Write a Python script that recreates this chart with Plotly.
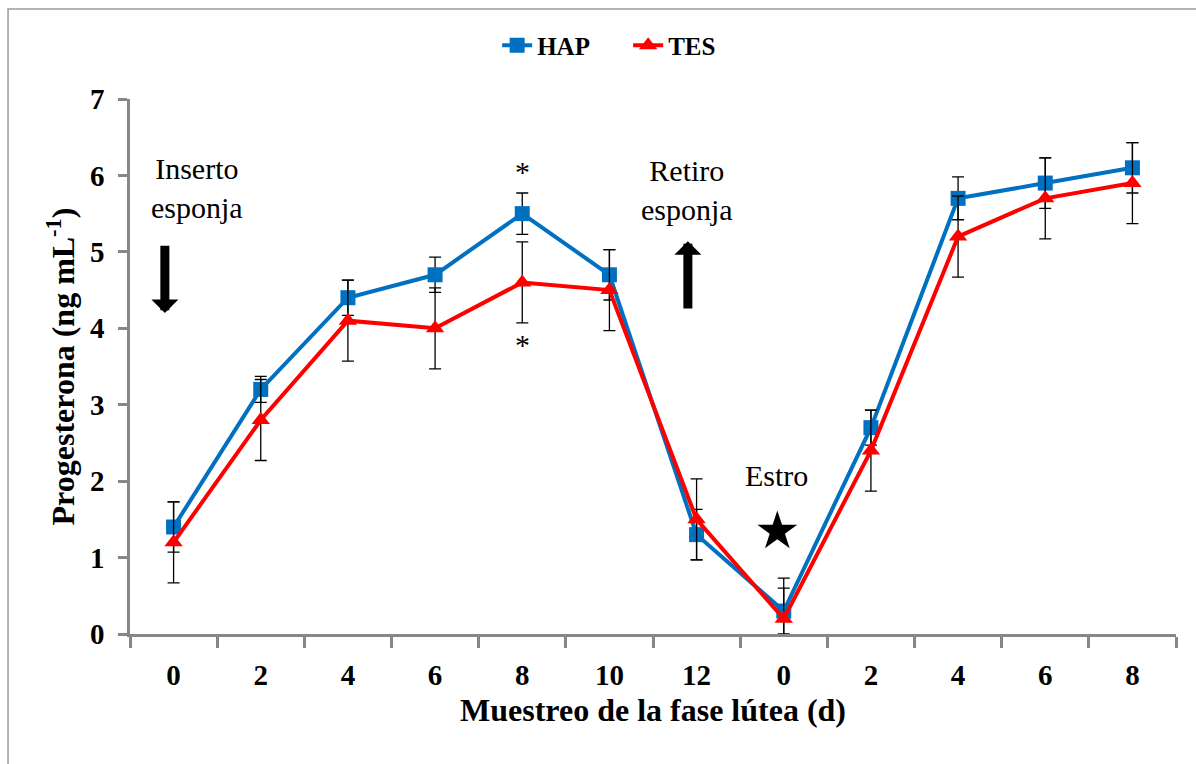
import plotly.graph_objects as go

# ---- data ----
day_labels = ["0", "2", "4", "6", "8", "10", "12", "0", "2", "4", "6", "8"]
positions = list(range(len(day_labels)))

hap_values = [1.4, 3.2, 4.4, 4.7, 5.5, 4.7, 1.3, 0.3, 2.7, 5.7, 5.9, 6.1]
hap_errors = [0.33, 0.17, 0.23, 0.23, 0.27, 0.33, 0.33, 0.30, 0.23, 0.28, 0.33, 0.33]

tes_values = [1.2, 2.8, 4.1, 4.0, 4.6, 4.5, 1.5, 0.2, 2.4, 5.2, 5.7, 5.9]
tes_errors = [0.53, 0.53, 0.53, 0.53, 0.53, 0.53, 0.53, 0.53, 0.53, 0.53, 0.53, 0.53]

y_ticks = [0, 1, 2, 3, 4, 5, 6, 7]

FONT = "Liberation Serif"
AXIS_COLOR = "#878787"

fig = go.Figure()

fig.add_trace(go.Scatter(
    x=positions, y=hap_values, name="HAP", mode="lines+markers",
    line=dict(color="#0070C0", width=4),
    marker=dict(symbol="square", size=15, color="#0070C0"),
    error_y=dict(type="data", array=hap_errors, color="black", thickness=1.3, width=6),
))
fig.add_trace(go.Scatter(
    x=positions, y=tes_values, name="TES", mode="lines+markers",
    line=dict(color="#FF0000", width=4),
    marker=dict(symbol="triangle-up", size=16, color="#FF0000"),
    error_y=dict(type="data", array=tes_errors, color="black", thickness=1.3, width=6),
))

annotations = [
    dict(x=0.27, y=5.84, text="Inserto<br>esponja", showarrow=False,
         font=dict(family=FONT, size=30, color="black")),
    dict(x=5.89, y=5.81, text="Retiro<br>esponja", showarrow=False,
         font=dict(family=FONT, size=30, color="black")),
    dict(x=6.92, y=2.08, text="Estro", showarrow=False,
         font=dict(family=FONT, size=30, color="black")),
    dict(x=6.93, y=1.36, text="★", showarrow=False,
         font=dict(family="DejaVu Sans", size=52, color="black")),
    dict(x=4.0, y=6.05, text="*", showarrow=False,
         font=dict(family=FONT, size=30, color="black")),
    dict(x=4.0, y=3.79, text="*", showarrow=False,
         font=dict(family=FONT, size=30, color="black")),
    # arrows
    dict(x=-0.10, y=4.2, ax=-0.10, ay=5.1, xref="x", yref="y", axref="x", ayref="y",
         text="", showarrow=True, arrowhead=1, arrowwidth=9, arrowsize=0.5, arrowcolor="black"),
    dict(x=5.90, y=5.14, ax=5.90, ay=4.24, xref="x", yref="y", axref="x", ayref="y",
         text="", showarrow=True, arrowhead=1, arrowwidth=9, arrowsize=0.5, arrowcolor="black"),
]

fig.update_layout(
    width=1196, height=764,
    margin=dict(l=130, r=20, t=99, b=130, autoexpand=False),
    paper_bgcolor="white", plot_bgcolor="white",
    font=dict(family=FONT, color="black"),
    showlegend=True,
    legend=dict(orientation="h", x=0.351, y=1.10, xanchor="left", yanchor="middle",
                font=dict(family=FONT, size=25, weight="bold", color="black"),
                entrywidth=86, entrywidthmode="pixels",
                bgcolor="rgba(0,0,0,0)"),
    annotations=annotations,
    shapes=[dict(type="rect", xref="paper", yref="paper",
                 x0=-0.1166, x1=1.1, y0=-0.3, y1=1.168,
                 line=dict(color="#9a9a9a", width=1.5), layer="below")],
)

fig.update_xaxes(
    range=[-0.5, 11.5], tickmode="array", tickvals=positions, ticktext=day_labels,
    ticks="", showgrid=False, zeroline=False,
    showline=True, linecolor=AXIS_COLOR, linewidth=2.5,
    tickfont=dict(family=FONT, size=29, weight="bold", color="black"),
    ticklabelstandoff=13,
    minor=dict(tickmode="linear", tick0=-0.5, dtick=1, ticks="outside", ticklen=11,
               tickwidth=2.5, tickcolor=AXIS_COLOR, showgrid=False),
    title=dict(text="Muestreo de la fase lútea (d)", standoff=10,
               font=dict(family=FONT, size=32, weight="bold", color="black")),
)
fig.update_yaxes(
    range=[0, 7], tickmode="array", tickvals=y_ticks,
    ticks="outside", ticklen=9, tickwidth=2.5, tickcolor=AXIS_COLOR,
    showgrid=False, zeroline=False,
    showline=True, linecolor=AXIS_COLOR, linewidth=2.5,
    tickfont=dict(family=FONT, size=29, weight="bold", color="black"),
    ticklabelstandoff=8,
    title=dict(text="Progesterona (ng mL<sup>-1</sup>)", standoff=6,
               font=dict(family=FONT, size=32, weight="bold", color="black")),
)

fig.write_html("out.html")
